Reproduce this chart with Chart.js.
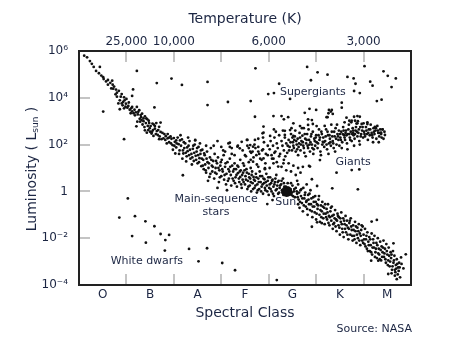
<!DOCTYPE html>
<html>
<head>
<meta charset="utf-8">
<script src="https://cdn.jsdelivr.net/npm/chart.js@4.4.1/dist/chart.umd.min.js"></script>
<style>
html,body{margin:0;padding:0;background:#fff;}
canvas{display:block;}
</style>
</head>
<body>
<canvas id="c" width="471" height="354"></canvas>
<script>
// Spectral class categories (x axis: class index, 0..7)
const classes = ['O','B','A','F','G','K','M'];
const classBoundaries = [1,2,3,4,5,6];
// Temperature tick labels on top axis (at class boundaries)
const tempTickValues = [1,2,4,6];
const tempTickLabels = ['25,000','10,000','6,000','3,000'];
// Luminosity ticks (log10 of L/Lsun)
const lumTickValues = [-4,-2,0,2,4,6];
const lumTickLabels = ['10\u207B\u2074','10\u207B\u00B2','1','10\u00B2','10\u2074','10\u2076'];
const innerLumTicks = [-2,0,2,4];

// Stars: [spectral position, log10(L/Lsun)]
const mainSequence = [
[0.11,5.80],[0.17,5.73],[0.23,5.57],[0.31,5.32],[0.44,5.32],[0.42,5.05],[0.51,4.88],[0.61,4.76],[0.70,4.73],[0.61,4.56],[0.71,4.56],[0.72,4.39],[0.84,4.30],[0.90,4.16],[0.77,4.15],[0.86,3.89],[0.96,3.89],[0.83,3.76],[0.90,3.76],[0.99,3.75],[0.92,3.68],[1.04,3.65],[1.12,3.61],[1.22,3.61],[1.07,3.49],[0.86,3.51],[1.17,3.49],[1.27,3.47],[1.09,3.34],[1.15,3.34],[1.33,3.32],[1.24,3.29],[1.39,3.21],[1.31,3.17],[1.44,3.08],[1.23,2.98],[1.29,2.98],[1.36,3.00],[1.41,2.92],[1.48,2.92],[1.63,2.92],[1.72,2.94],[1.51,2.79],[1.60,2.79],[1.69,2.76],[1.21,2.78],[1.39,2.61],[1.46,2.62],[1.56,2.62],[1.64,2.58],[1.72,2.54],[1.43,2.51],[1.53,2.47],[1.66,2.41],[1.80,2.45],[1.87,2.45],[1.57,2.37],[1.78,2.27],[1.87,2.27],[2.00,2.28],[1.69,2.23],[1.74,2.23],[2.05,2.18],
[0.52,4.80],[0.66,4.64],[0.74,4.48],[0.78,4.35],[0.80,4.22],[0.95,4.02],[0.88,4.05],[1.00,3.95],[0.93,3.82],[1.02,3.58],[0.95,3.55],[1.12,3.42],[1.20,3.38],[1.30,3.26],[1.36,3.12],[1.28,3.10],[1.47,3.02],[1.34,2.86],[1.45,2.80],[1.55,2.90],[1.60,2.68],[1.50,2.55],[1.83,2.36],[1.93,2.35],
[1.90,2.10],[1.95,2.25],[1.97,1.98],[2.02,2.12],[2.05,1.88],[2.08,2.30],[2.10,2.02],[2.12,1.75],[2.15,1.95],[2.17,2.22],[2.20,1.62],[2.22,1.85],[2.24,2.05],[2.27,1.50],[2.29,1.72],[2.31,1.95],[2.33,2.15],[2.35,1.40],[2.37,1.60],[2.40,1.82],[2.42,1.30],[2.44,2.00],[2.46,1.52],[2.48,1.70],[2.50,1.20],[2.52,1.90],[2.54,1.42],[2.56,1.60],[2.58,1.08],[2.60,1.78],[2.03,1.62],[2.18,1.40],[2.26,1.28],[2.38,1.15],[2.14,2.40],[2.30,2.30],[2.45,2.18],[2.55,2.05],[1.98,1.78],
[2.62,1.35],[2.63,0.95],[2.65,1.55],[2.66,1.15],[2.68,0.80],[2.70,1.70],[2.71,1.25],[2.73,1.00],[2.75,0.62],[2.76,1.45],[2.78,1.85],[2.80,1.10],[2.81,0.85],[2.83,1.30],[2.85,0.55],[2.86,1.60],[2.88,1.00],[2.90,0.75],[2.91,1.20],[2.93,1.45],[2.95,0.40],[2.96,0.90],[2.98,1.10],[3.00,0.65],[3.01,1.35],[3.03,0.85],[3.05,1.55],[3.06,0.50],[3.08,1.05],[3.10,0.30],[3.11,0.75],[3.13,1.25],[3.15,0.95],[3.16,0.55],[3.18,1.40],[3.20,0.70],[3.21,0.25],[3.23,1.10],[3.25,0.85],[3.26,0.45],[3.28,1.20],[3.30,0.60],[3.31,0.95],[3.33,0.20],[3.35,0.78],[3.36,1.05],[3.38,0.40],[3.40,0.62],[3.41,0.90],[3.43,0.15],[3.45,0.50],[3.46,0.80],[3.48,1.10],[2.72,0.45],[2.92,0.15],[3.12,0.05],[2.84,1.95],[3.04,1.75],[3.22,1.60],
[3.50,0.30],[3.51,0.65],[3.53,0.95],[3.55,0.10],[3.56,0.45],[3.58,0.75],[3.60,0.25],[3.61,0.55],[3.63,0.00],[3.65,0.85],[3.66,0.35],[3.68,0.62],[3.70,0.15],[3.71,0.45],[3.73,0.75],[3.75,-0.05],[3.76,0.30],[3.78,0.55],[3.80,0.10],[3.81,0.85],[3.83,0.40],[3.85,0.20],[3.86,0.65],[3.88,-0.10],[3.90,0.35],[3.91,0.52],[3.93,0.05],[3.95,0.75],[3.96,0.25],[3.98,0.45],[4.00,-0.15],[4.01,0.15],[4.03,0.60],[4.05,0.35],[4.06,0.00],[4.08,0.50],[4.10,0.20],[4.11,-0.20],[4.13,0.40],[4.15,0.05],[4.16,0.70],[4.18,0.25],[4.20,-0.10],[4.21,0.45],[4.23,0.15],[4.26,0.30],[4.28,0.05],[4.30,0.55],[4.31,-0.15],[4.33,0.20],[4.40,0.35],[4.42,0.15],[3.97,-0.54],[4.08,-0.37],[3.62,1.00],[3.78,1.05],[3.92,0.95],
[4.46,0.10],[4.48,-0.15],[4.50,0.25],[4.53,0.00],[4.55,-0.25],[4.57,0.15],[4.62,-0.55],[4.60,-0.10],[4.62,0.30],[4.63,-0.35],[4.65,-0.70],[4.67,0.05],[4.68,-0.20],[4.70,-0.50],[4.72,-0.85],[4.73,0.15],[4.75,-0.30],[4.77,-0.05],[4.78,-0.65],[4.80,-0.40],[4.82,-1.00],[4.83,-0.15],[4.85,-0.55],[4.87,-0.80],[4.88,0.05],[4.90,-0.30],[4.92,-1.10],[4.93,-0.65],[4.95,-0.45],[4.97,-0.90],[4.98,-0.20],[5.00,-1.20],[5.02,-0.55],[5.03,-0.75],[5.05,-0.35],[5.07,-1.00],[5.08,-1.30],[5.10,-0.60],[5.12,-0.85],[5.13,-0.45],[5.15,-1.15],[5.17,-0.70],[5.18,-1.40],[5.20,-0.95],[4.91,-1.51],[5.12,-1.36],[5.02,-1.32],[4.60,0.45],[4.80,0.30],
[5.22,-0.75],[5.23,-1.20],[5.25,-0.55],[5.27,-1.05],[5.28,-1.45],[5.30,-0.85],[5.32,-1.25],[5.33,-0.65],[5.35,-1.60],[5.37,-1.00],[5.38,-1.35],[5.40,-0.80],[5.42,-1.20],[5.43,-1.70],[5.45,-0.95],[5.47,-1.45],[5.48,-1.10],[5.50,-1.85],[5.52,-1.30],[5.53,-0.90],[5.55,-1.60],[5.57,-1.15],[5.58,-1.95],[5.60,-1.40],[5.62,-1.05],[5.63,-1.75],[5.65,-1.25],[5.67,-1.55],[5.68,-2.05],[5.70,-1.35],[5.72,-1.85],[5.73,-1.15],[5.75,-1.65],[5.77,-2.10],[5.78,-1.45],[5.80,-1.90],[5.82,-1.30],[5.83,-1.70],[5.85,-2.20],[5.87,-1.55],[5.88,-2.00],[5.90,-1.40],[5.92,-1.80],[5.93,-2.30],[5.95,-1.65],[5.97,-2.10],[5.98,-1.50],
[6.00,-1.85],[6.02,-2.25],[6.03,-1.60],[6.05,-2.05],[6.07,-2.45],[6.08,-1.75],[6.10,-2.15],[6.12,-1.95],[6.13,-2.55],[6.15,-2.30],[6.17,-1.80],[6.18,-2.70],[6.20,-2.05],[6.22,-2.40],[6.23,-1.90],[6.25,-2.60],[6.27,-2.20],[6.28,-2.85],[6.30,-2.00],[6.32,-2.45],[6.33,-2.70],[6.35,-2.15],[6.37,-2.95],[6.38,-2.35],[6.40,-2.60],[6.42,-2.10],[6.43,-2.80],[6.45,-2.45],[6.47,-3.05],[6.48,-2.25],[6.50,-2.70],[6.52,-2.95],[6.53,-2.40],[6.55,-3.20],[6.57,-2.60],[6.58,-2.85],[6.60,-3.35],[6.62,-2.55],[6.63,-3.05],[6.65,-2.75],[6.67,-3.45],[6.68,-3.15],[6.70,-2.90],[6.72,-3.55],[6.73,-3.25],[6.75,-3.05],[6.77,-3.67],[6.52,-3.53],[6.59,-3.50],[6.66,-3.35],[6.84,-3.29],[6.89,-2.69],[6.79,-2.82],[6.63,-2.22],[6.16,-2.96],[6.31,-2.96],[6.28,-1.22],[6.17,-1.29],[6.80,-3.10],[6.70,-3.75]
];

const mainSequenceExtra = [
[1.05,3.80],[1.10,3.55],[1.18,3.25],[1.25,3.40],[1.32,3.05],[1.38,2.75],[1.42,3.12],[1.49,2.70],[1.54,2.55],[1.58,2.85],[1.62,2.45],[1.67,2.62],[1.70,2.35],[1.76,2.50],[1.82,2.20],[1.85,2.05],[1.90,2.30],[1.94,2.05],[0.98,3.62],[0.80,4.05],[0.68,4.40],[0.57,4.70],[0.47,4.95],[0.36,5.15],[0.27,5.45],
[2.01,1.95],[2.06,2.05],[2.11,1.60],[2.13,2.18],[2.19,1.75],[2.21,2.10],[2.25,1.65],[2.28,1.88],[2.32,1.55],[2.34,1.78],[2.39,1.45],[2.41,1.95],[2.43,1.65],[2.47,1.35],[2.49,1.85],[2.51,1.55],[2.53,1.25],[2.57,1.75],[2.59,1.40],
[2.61,1.10],[2.64,1.62],[2.67,0.90],[2.69,1.40],[2.74,1.20],[2.77,0.75],[2.79,1.35],[2.82,1.05],[2.87,0.80],[2.89,1.30],[2.94,1.00],[2.97,0.60],[2.99,1.25],[3.02,0.95],[3.07,0.70],[3.09,1.20],[3.14,0.45],[3.17,0.85],[3.19,1.05],[3.24,0.55],[3.27,0.95],[3.29,0.35],[3.32,0.70],[3.34,1.10],[3.37,0.55],[3.39,0.85],[3.42,0.30],[3.44,0.70],[3.47,0.40],[3.49,0.90],
[3.52,0.50],[3.54,0.80],[3.57,0.20],[3.59,0.60],[3.62,0.40],[3.64,0.70],[3.67,0.10],[3.69,0.50],[3.72,0.25],[3.74,0.60],[3.77,0.05],[3.79,0.40],[3.82,0.65],[3.84,0.00],[3.87,0.30],[3.89,0.55],[3.92,0.15],[3.94,0.40],[3.97,0.00],[3.99,0.60],[4.02,0.30],[4.04,0.10],[4.07,0.45],[4.09,-0.10],[4.12,0.30],[4.14,0.55],[4.17,0.10],[4.19,0.40],[4.22,-0.05],[4.24,0.25],[4.27,0.45],[4.29,-0.05],[4.32,0.35],[4.36,0.20],[4.44,0.00],
[4.47,0.35],[4.49,-0.05],[4.51,-0.20],[4.54,0.10],[4.66,-0.45],[4.59,0.00],[4.61,-0.25],[4.64,-0.05],[4.69,0.10],[4.71,-0.30],[4.74,-0.60],[4.76,-0.15],[4.79,-0.45],[4.81,-0.75],[4.84,-0.35],[4.86,-0.10],[4.89,-0.55],[4.91,-0.85],[4.94,-0.25],[4.96,-0.65],[4.99,-0.45],[5.01,-0.95],[5.04,-0.60],[5.06,-0.20],[5.09,-0.80],[5.11,-1.10],[5.14,-0.65],[5.16,-0.95],[5.19,-0.55],
[5.21,-1.10],[5.24,-0.90],[5.26,-1.35],[5.29,-1.10],[5.31,-0.70],[5.34,-1.05],[5.36,-1.40],[5.39,-1.15],[5.41,-1.50],[5.44,-1.25],[5.46,-1.05],[5.49,-1.55],[5.51,-1.15],[5.54,-1.40],[5.56,-1.75],[5.59,-1.25],[5.61,-1.60],[5.64,-1.45],[5.66,-1.85],[5.69,-1.60],[5.71,-1.25],[5.74,-1.50],[5.76,-1.90],[5.79,-1.65],[5.81,-2.05],[5.84,-1.50],[5.86,-1.85],[5.89,-1.70],[5.91,-2.10],[5.94,-1.90],[5.96,-1.45],[5.99,-2.20],
[6.01,-2.05],[6.04,-2.35],[6.06,-1.90],[6.09,-2.55],[6.11,-2.30],[6.14,-2.05],[6.16,-2.60],[6.19,-2.40],[6.21,-2.20],[6.24,-2.80],[6.26,-2.45],[6.29,-2.30],[6.31,-2.65],[6.34,-2.90],[6.36,-2.50],[6.39,-2.80],[6.41,-2.40],[6.44,-2.65],[6.46,-2.90],[6.49,-2.55],[6.51,-3.15],[6.54,-2.75],[6.56,-3.00],[6.59,-2.70],[6.61,-3.20],[6.64,-2.95],[6.66,-3.60],[6.69,-3.30],[6.71,-3.10],[6.74,-3.40],[6.76,-3.25]
];

const subgiants = [
[3.00,1.90],[3.08,1.70],[3.15,2.05],[3.22,1.85],[3.28,1.55],[3.35,1.95],[3.40,1.35],[3.45,1.75],[3.50,1.55],[3.55,1.95],[3.58,1.25],[3.63,1.65],[3.68,1.45],[3.72,1.85],[3.75,1.15],[3.80,1.60],[3.85,1.35],[3.88,1.80],[3.93,1.20],[3.98,1.55],[4.02,1.00],[4.07,1.40],[4.12,1.65],[4.17,1.25],[4.22,1.50],[4.27,1.05],[4.32,1.35],[4.37,0.90],[4.42,1.20],[4.47,0.85],[4.52,1.10],[4.57,0.70],[4.62,1.00],[4.67,0.80],[4.72,1.05],
[3.67,1.27],[3.46,1.20],[3.89,1.41],[4.10,1.20],[4.31,1.20],[3.92,0.99],[4.20,1.06],[4.87,1.06],[5.08,1.34],[5.88,0.09],[5.34,0.13],[5.02,0.23],[4.91,0.52]
];

const giants = [
[3.52,1.50],[3.58,1.85],[3.62,1.35],[3.66,1.70],[3.70,2.00],[3.74,1.55],[3.78,1.90],[3.82,1.40],[3.86,1.75],[3.90,2.10],[3.94,1.60],[3.98,1.95],[3.55,2.20],[3.71,2.20],[3.88,2.30],
[4.02,1.80],[4.04,2.15],[4.06,1.55],[4.09,1.95],[4.12,2.30],[4.14,1.70],[4.17,2.05],[4.19,1.85],[4.22,2.40],[4.24,1.60],[4.27,2.15],[4.29,1.95],[4.32,1.75],[4.34,2.30],[4.37,2.05],[4.39,1.65],[4.42,2.20],[4.44,1.90],[4.47,2.45],[4.49,1.75],[4.15,2.55],[4.30,2.60],[4.45,2.62],[4.10,1.40],[4.35,1.50],
[4.51,2.10],[4.53,1.85],[4.55,2.35],[4.57,1.70],[4.59,2.00],[4.61,2.25],[4.63,1.90],[4.65,2.50],[4.67,1.75],[4.69,2.15],[4.71,2.38],[4.73,1.95],[4.75,1.65],[4.77,2.25],[4.79,2.05],[4.81,2.45],[4.83,1.85],[4.85,2.20],[4.87,1.70],[4.89,2.35],[4.91,2.00],[4.93,2.55],[4.95,1.80],[4.97,2.15],[4.99,2.30],[4.56,2.60],[4.70,2.70],[4.84,2.65],[4.62,1.55],[4.78,1.50],[4.94,1.60],[4.68,2.00],[4.86,2.00],[4.54,2.20],[4.98,1.95],
[5.01,2.10],[5.03,1.85],[5.05,2.40],[5.07,2.20],[5.09,1.70],[5.11,2.55],[5.13,2.00],[5.15,2.30],[5.17,1.90],[5.19,2.15],[5.21,2.65],[5.23,1.80],[5.25,2.40],[5.27,2.05],[5.29,2.25],[5.31,1.95],[5.33,2.55],[5.35,2.15],[5.37,1.85],[5.39,2.35],[5.41,2.70],[5.43,2.00],[5.45,2.45],[5.47,2.20],[5.49,1.95],[5.06,2.65],[5.18,2.80],[5.32,2.85],[5.44,2.85],[5.10,1.55],[5.26,1.60],[5.40,1.70],[5.14,2.12],[5.36,2.05],[5.48,2.60],
[5.51,2.30],[5.53,2.55],[5.55,2.10],[5.57,2.75],[5.59,2.40],[5.61,2.20],[5.63,2.60],[5.65,2.05],[5.67,2.45],[5.69,2.85],[5.71,2.30],[5.73,2.55],[5.75,2.15],[5.77,2.70],[5.79,2.40],[5.81,2.25],[5.83,2.60],[5.85,2.90],[5.87,2.35],[5.89,2.50],[5.91,2.15],[5.93,2.75],[5.95,2.45],[5.97,2.60],[5.99,2.30],[5.54,1.85],[5.66,1.80],[5.80,1.95],[5.92,2.00],[5.60,2.95],[5.74,2.95],[5.88,3.00],[5.62,2.50],[5.78,2.50],[5.96,2.88],
[6.01,2.55],[6.03,2.35],[6.05,2.75],[6.07,2.45],[6.09,2.20],[6.11,2.65],[6.13,2.40],[6.15,2.85],[6.17,2.50],[6.19,2.30],[6.21,2.70],[6.23,2.45],[6.25,2.60],[6.27,2.25],[6.29,2.80],[6.31,2.50],[6.33,2.35],[6.35,2.65],[6.37,2.45],[6.40,2.65],[6.45,2.41],[6.42,2.25],[6.08,2.95],[6.20,2.10],[6.32,2.10]
];

const giantsExtra = [
[4.40,1.95],[4.43,1.75],[4.46,2.10],[4.50,2.30],[4.52,1.95],[4.58,2.15],[4.60,1.80],[4.64,2.05],[4.66,2.30],[4.72,2.10],[4.74,1.85],[4.76,2.45],[4.80,2.20],[4.82,1.95],[4.88,2.10],[4.90,2.45],[4.92,1.85],[4.96,2.25],[5.00,2.40],[5.04,2.05],[5.08,2.30],[5.12,2.45],[5.16,2.10],[5.20,2.35],[5.22,2.00],[5.24,2.55],[5.28,2.40],[5.30,2.10],[5.34,2.35],[5.38,2.55],[5.42,2.25],[5.46,2.35],[5.50,2.45],[5.52,2.20],[5.56,2.45],[5.58,2.60],[5.60,2.30],[5.64,2.40],[5.68,2.65],[5.70,2.45],[5.72,2.20],[5.76,2.45],[5.78,2.60],[5.82,2.45],[5.84,2.75],[5.86,2.55],[5.90,2.65],[5.94,2.35],[5.98,2.75],[6.02,2.45],[6.06,2.60],[6.10,2.50],[6.14,2.65],[6.18,2.40],[6.22,2.55],[6.26,2.70],[6.30,2.60],[6.34,2.50],[6.38,2.30],[6.44,2.55]
];

const brightGiants = [
[4.86,3.53],[5.00,3.48],[4.76,3.36],[5.54,3.79],[5.54,3.58],[5.27,3.48],[5.31,3.41],[5.26,3.34],[5.22,3.17],[3.71,3.19],[4.10,3.22],[4.27,3.22],[4.41,3.17],[4.32,3.08],[4.83,3.08],[4.93,2.88],[5.01,2.79],[5.64,3.15],[5.80,3.19],[5.92,3.19],[5.75,3.02],[5.82,3.02],[6.00,2.91],[3.89,2.77],[3.89,2.51],[4.11,2.65],[4.34,2.59],[4.48,2.70],[4.66,2.79],[4.74,2.70],[4.52,2.37],[4.03,2.37],[3.78,2.25],[3.54,2.20],[3.43,2.12],[3.34,1.91],[3.61,1.98],[3.67,1.91],[5.43,0.80],[5.75,0.91],[5.91,0.94],[4.85,1.09],
[5.33,3.48],[5.35,3.31],[5.24,3.17],[5.87,3.22],[5.70,3.02],[5.87,2.91],[6.08,2.88],[6.24,2.76],[6.40,2.65],[6.37,2.51],[3.87,2.48],[4.34,2.41],[4.52,2.91],[4.83,2.84],[4.91,3.05],[3.39,1.84],[3.61,1.70],[3.78,1.70]
];

const supergiants = [
[3.72,5.26],[4.81,5.32],[5.03,5.09],[5.24,4.99],[4.89,4.75],[6.02,5.35],[5.66,4.89],[5.79,4.83],[6.42,5.13],[6.51,4.94],[6.68,4.83],[6.14,4.69],[6.19,4.52],[5.83,4.60],[4.22,4.60],[3.99,4.16],[4.11,4.20],[4.45,3.95],[3.62,3.86],[5.80,4.29],[5.92,4.20],[6.59,4.46],[6.28,3.86],[6.38,3.92],
[1.22,5.15],[1.64,4.63],[1.95,4.82],[2.17,4.55],[2.71,4.68],[2.71,3.69],[3.14,3.82],[1.14,4.36],[1.12,4.08],[1.59,3.59],[0.51,3.41],[0.95,2.23],[2.45,2.20],[2.68,1.95],[2.92,2.15],[3.18,2.08],[3.18,1.90],[2.19,0.69]
];

const whiteDwarfs = [
[1.03,-0.30],[0.85,-1.12],[1.18,-1.06],[1.40,-1.28],[1.59,-1.49],[1.12,-1.91],[1.72,-1.82],[1.90,-1.86],[1.82,-2.08],[1.41,-2.19],[1.81,-2.53],[2.32,-2.46],[2.70,-2.43],[2.52,-2.99],[3.02,-3.06],[3.29,-3.37],[4.17,-3.79]
];

const sun = [[4.38,0.0]];

// Label anchors in data units
const labelTexts = ['Supergiants','Giants','Main-sequence','stars','Sun','White dwarfs'];
const labelX = [4.93,5.78,2.89,2.89,4.36,1.43];
const labelY = [4.26,1.27,-0.32,-0.87,-0.48,-2.97];

const TXT = '#1c2643';
const FONT = '"DejaVu Sans", Verdana, sans-serif';

const toPts = arr => arr.map(p => ({x: p[0], y: p[1]}));
const allStars = [].concat(mainSequence, mainSequenceExtra, subgiants, giants, giantsExtra, brightGiants, supergiants, whiteDwarfs);

const deco = {
  id: 'deco',
  beforeDatasetsDraw(chart) {
    const ctx = chart.ctx, a = chart.chartArea;
    const xs = chart.scales.x, ys = chart.scales.y;
    ctx.save();
    ctx.strokeStyle = '#c4c4c4';
    ctx.lineWidth = 2;
    ctx.beginPath();
    classBoundaries.forEach(v => {
      const px = Math.round(xs.getPixelForValue(v));
      ctx.moveTo(px, a.bottom); ctx.lineTo(px, a.bottom - 11);
      ctx.moveTo(px, a.top); ctx.lineTo(px, a.top + 11);
    });
    innerLumTicks.forEach(v => {
      const py = Math.round(ys.getPixelForValue(v));
      ctx.moveTo(a.left, py); ctx.lineTo(a.left + 11, py);
    });
    ctx.stroke();
    ctx.restore();
  },
  afterDraw(chart) {
    const ctx = chart.ctx, a = chart.chartArea;
    const xs = chart.scales.x, ys = chart.scales.y;
    ctx.save();
    ctx.strokeStyle = '#222';
    ctx.lineWidth = 2;
    ctx.strokeRect(a.left, a.top, a.right - a.left, a.bottom - a.top);

    ctx.fillStyle = TXT;
    ctx.textAlign = 'center';
    ctx.textBaseline = 'middle';
    ctx.font = '11px ' + FONT;
    labelTexts.forEach((t, i) => {
      ctx.fillText(t, xs.getPixelForValue(labelX[i]), ys.getPixelForValue(labelY[i]));
    });

    const cx = (a.left + a.right) / 2;
    ctx.font = '14px ' + FONT;
    ctx.fillText('Temperature (K)', cx, a.top - 32);
    ctx.fillText('Spectral Class', cx, a.bottom + 28);

    // y title with subscript
    ctx.save();
    ctx.translate(a.left - 47, (a.top + a.bottom) / 2 + 1);
    ctx.rotate(-Math.PI / 2);
    const p1 = 'Luminosity ( L', p2 = 'sun', p3 = ' )';
    ctx.font = '14px ' + FONT;
    const w1 = ctx.measureText(p1).width, w3 = ctx.measureText(p3).width;
    ctx.font = '9px ' + FONT;
    const w2 = ctx.measureText(p2).width;
    let x0 = -(w1 + w2 + w3) / 2;
    ctx.textAlign = 'left';
    ctx.font = '14px ' + FONT;
    ctx.fillText(p1, x0, 0);
    ctx.font = '9px ' + FONT;
    ctx.fillText(p2, x0 + w1, 4);
    ctx.font = '14px ' + FONT;
    ctx.fillText(p3, x0 + w1 + w2, 0);
    ctx.restore();

    ctx.font = '11px ' + FONT;
    ctx.textAlign = 'right';
    ctx.fillText('Source: NASA', a.right + 1, a.bottom + 44);
    ctx.restore();
  }
};

new Chart(document.getElementById('c'), {
  type: 'scatter',
  data: {
    datasets: [
      { data: toPts(allStars), pointRadius: 1.4, pointBorderWidth: 0, pointBackgroundColor: '#111', pointHoverRadius: 1.4 },
      { data: toPts(sun), pointRadius: 5.5, pointBorderWidth: 0, pointBackgroundColor: '#111', pointHoverRadius: 5.5 }
    ]
  },
  options: {
    responsive: false,
    animation: false,
    events: [],
    layout: { padding: { left: 0, right: 60, top: 0, bottom: 0 } },
    plugins: { legend: { display: false }, tooltip: { enabled: false } },
    scales: {
      x: {
        type: 'linear', position: 'bottom', min: 0, max: 7,
        afterBuildTicks: s => { s.ticks = classes.map((c, i) => ({ value: i + 0.5 })); },
        afterFit: s => { s.height = 69; },
        ticks: { callback: v => classes[Math.floor(v)], color: TXT, font: { family: FONT, size: 12 }, padding: 3, maxRotation: 0, autoSkip: false },
        grid: { display: false, drawTicks: false },
        border: { display: false }
      },
      x2: {
        type: 'linear', position: 'top', min: 0, max: 7,
        afterBuildTicks: s => { s.ticks = tempTickValues.map(v => ({ value: v })); },
        afterFit: s => { s.height = 51; },
        ticks: { callback: (v, i) => tempTickLabels[i], color: TXT, font: { family: FONT, size: 12 }, padding: 2, maxRotation: 0, autoSkip: false },
        grid: { display: false, drawTicks: false },
        border: { display: false }
      },
      y: {
        type: 'linear', min: -4, max: 6,
        afterBuildTicks: s => { s.ticks = lumTickValues.map(v => ({ value: v })); },
        afterFit: s => { s.width = 79; },
        ticks: { callback: (v, i) => lumTickLabels[i], color: TXT, font: { family: FONT, size: 12 }, padding: 11, autoSkip: false },
        grid: { display: false, drawTicks: false },
        border: { display: false }
      }
    }
  },
  plugins: [deco]
});
</script>
</body>
</html>
